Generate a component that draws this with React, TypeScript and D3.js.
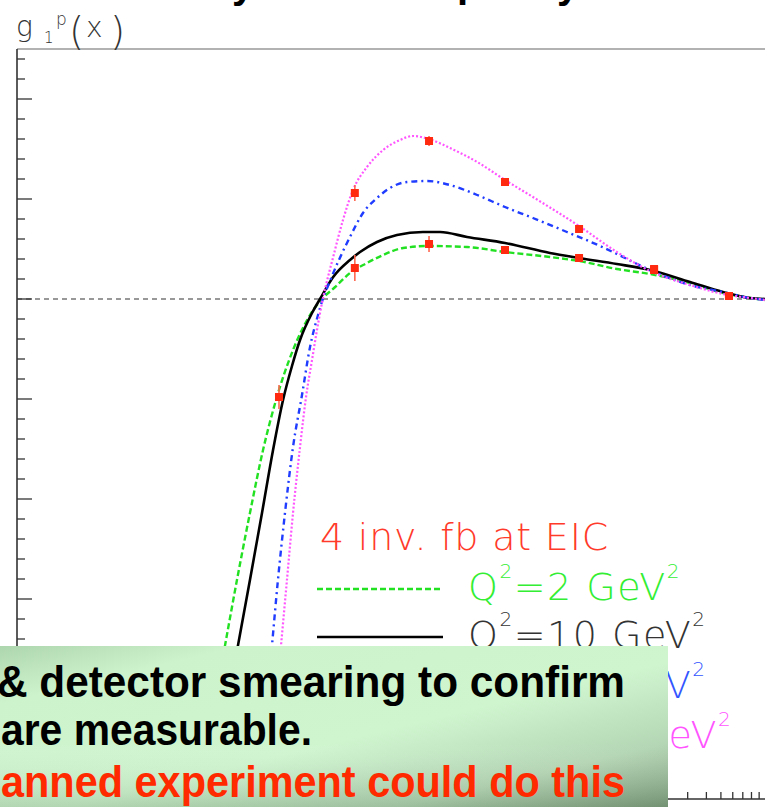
import React from 'react';
import * as d3 from 'd3';

// ---- data ----
const xGreen = [2.10e-4, 2.45e-4, 2.94e-4, 3.59e-4, 4.39e-4, 5.36e-4, 6.96e-4, 9.04e-4, 1.086e-3, 1.33e-3, 1.67e-3, 2.17e-3, 2.78e-3, 3.78e-3, 5.63e-3, 1.01e-2, 1.81e-2, 3.61e-2, 5.65e-2, 0.101, 0.168, 0.311, 0.516, 0.782, 0.985];
const yGreen = [-4.01, -3.46, -2.81, -2.14, -1.51, -1.01, -0.51, -0.16, 0, 0.12, 0.26, 0.36, 0.44, 0.51, 0.53, 0.52, 0.47, 0.42, 0.38, 0.30, 0.25, 0.16, 0.06, 0.01, -0.01];

const xBlack = [2.56e-4, 2.99e-4, 3.59e-4, 4.32e-4, 5.12e-4, 5.97e-4, 6.85e-4, 7.75e-4, 9.32e-4, 1.054e-3, 1.29e-3, 1.67e-3, 1.95e-3, 2.53e-3, 3.44e-3, 5.13e-3, 6.67e-3, 1.01e-2, 1.81e-2, 3.61e-2, 5.65e-2, 0.101, 0.168, 0.311, 0.516, 0.782, 0.985];
const yBlack = [-4.01, -3.46, -2.81, -2.14, -1.51, -1.01, -0.67, -0.41, -0.14, 0, 0.22, 0.39, 0.47, 0.57, 0.64, 0.67, 0.67, 0.62, 0.56, 0.46, 0.41, 0.35, 0.29, 0.17, 0.07, 0.01, 0];

const xBlue = [4.67e-4, 5.04e-4, 5.52e-4, 6.15e-4, 6.96e-4, 7.99e-4, 9.04e-4, 1.022e-3, 1.10e-3, 1.19e-3, 1.39e-3, 1.67e-3, 2.04e-3, 2.53e-3, 3.09e-3, 4.01e-3, 5.46e-3, 7.77e-3, 1.18e-2, 1.81e-2, 2.78e-2, 4.69e-2, 7.80e-2, 0.101, 0.168, 0.311, 0.516, 0.782, 0.985];
const yBlue = [-4.01, -3.46, -2.81, -2.14, -1.48, -0.96, -0.48, -0.16, 0, 0.13, 0.37, 0.62, 0.86, 1.01, 1.11, 1.17, 1.18, 1.14, 1.04, 0.92, 0.81, 0.67, 0.53, 0.45, 0.29, 0.14, 0.07, 0.01, -0.01];

const xMagenta = [5.36e-4, 5.79e-4, 6.34e-4, 6.96e-4, 7.75e-4, 8.50e-4, 9.32e-4, 1.006e-3, 1.086e-3, 1.156e-3, 1.29e-3, 1.50e-3, 1.75e-3, 2.17e-3, 2.78e-3, 3.60e-3, 4.40e-3, 5.63e-3, 7.77e-3, 1.18e-2, 1.81e-2, 2.78e-2, 5.65e-2, 0.101, 0.168, 0.311, 0.516, 0.782, 0.985];
const yMagenta = [-4.01, -3.46, -2.81, -2.14, -1.48, -0.98, -0.61, -0.31, -0.04, 0.14, 0.42, 0.79, 1.09, 1.32, 1.49, 1.59, 1.63, 1.60, 1.51, 1.37, 1.19, 1.02, 0.73, 0.47, 0.28, 0.14, 0.05, 0.01, -0.01];

// projected EIC points
const ptsLowX = [5.61e-4, 1.80e-3, 5.63e-3, 1.81e-2, 5.65e-2, 0.179, 0.566];
const ptsLowY = [-0.98, 0.31, 0.55, 0.49, 0.41, 0.29, 0.03];
const ptsLowErr = [0.12, 0.13, 0.08, 0.03, 0.03, 0.02, 0.02];
const ptsHighX = [1.80e-3, 5.63e-3, 1.81e-2, 5.65e-2, 0.179, 0.566];
const ptsHighY = [1.06, 1.58, 1.17, 0.70, 0.30, 0.03];
const ptsHighErr = [0.08, 0.05, 0.02, 0.02, 0.02, 0.02];

const legendTitle = '4 inv. fb at EIC';
const legendQ2 = ['2', '10', '50', '100'];
const boxLines = ['& detector smearing to confirm', 'are measurable.', 'anned experiment could do this'];
const titleFragments = ['y', 'p', 'y'];

const W = 765, H = 807;
const PX0 = 17, PX1 = 766, PY0 = 49, PY1 = 799;

export default function App() {
  const x = d3.scaleLog().domain([1e-5, 1]).range([PX0, PX1]);
  const y = d3.scaleLinear().domain([-5, 2.5]).range([PY1, PY0]);

  const line = d3.line<[number, number]>()
    .x(d => x(d[0]))
    .y(d => y(d[1]))
    .curve(d3.curveMonotoneX);
  const zip = (a: number[], b: number[]) => a.map((v, i) => [v, b[i]] as [number, number]);

  const curves = [
    { xs: xGreen, ys: yGreen, color: '#22e022', dash: '6 3', w: 2.4 },
    { xs: xBlack, ys: yBlack, color: '#000000', dash: null, w: 2.6 },
    { xs: xBlue, ys: yBlue, color: '#1f3cff', dash: '6 4 2 4', w: 2.4 },
    { xs: xMagenta, ys: yMagenta, color: '#ff55ff', dash: '2 2', w: 2.2 },
  ];
  const legendColors = ['#33ee33', '#333333', '#3355ff', '#ff55ff'];

  const yTicks: { v: number; major: boolean }[] = [];
  for (let i = -25; i <= 12; i++) {
    yTicks.push({ v: i * 0.2, major: i % 5 === 0 });
  }
  const xTicks: { v: number; major: boolean }[] = [];
  for (let d = -5; d < 0; d++) {
    for (let k = 1; k <= 9; k++) xTicks.push({ v: k * Math.pow(10, d), major: k === 1 });
  }

  const thin = "'DejaVu Sans ExtraLight', 'DejaVu Sans', sans-serif";
  const legendBase = [550, 600, 648, 698, 748];

  return (
    <svg width={W} height={H} style={{ position: 'absolute', left: 0, top: 0, background: '#fff' }}>
      <defs>
        <clipPath id="plot">
          <rect x={PX0} y={PY0} width={PX1 - PX0} height={PY1 - PY0} />
        </clipPath>
        <linearGradient id="boxg" x1="0" y1="0" x2="1" y2="1">
          <stop offset="0" stopColor="#aed6ae" />
          <stop offset="0.18" stopColor="#cdf3cd" />
          <stop offset="0.55" stopColor="#cff5cf" />
          <stop offset="0.8" stopColor="#b4d6b4" />
          <stop offset="1" stopColor="#7b9a7b" />
        </linearGradient>
        <linearGradient id="boxv" x1="0" y1="0" x2="0" y2="1">
          <stop offset="0" stopColor="#ffffff" stopOpacity="0" />
          <stop offset="0.6" stopColor="#ffffff" stopOpacity="0" />
          <stop offset="1" stopColor="#5a7a5a" stopOpacity="0.25" />
        </linearGradient>
      </defs>

      {/* frame */}
      <line x1={PX0} y1={PY0} x2={W} y2={PY0} stroke="#666" strokeWidth={1.2} />
      <line x1={PX0} y1={PY0} x2={PX0} y2={PY1} stroke="#333" strokeWidth={1.6} />
      <line x1={PX0} y1={PY1} x2={W} y2={PY1} stroke="#333" strokeWidth={1.6} />
      {yTicks.map((t, i) => (
        <line key={'yt' + i} x1={PX0} x2={PX0 + (t.major ? 15 : 8)} y1={y(t.v)} y2={y(t.v)} stroke="#333" strokeWidth={1.3} />
      ))}
      {xTicks.map((t, i) => (
        <line key={'xt' + i} x1={x(t.v)} x2={x(t.v)} y1={PY1} y2={PY1 - (t.major ? 14 : 7)} stroke="#333" strokeWidth={1.3} />
      ))}

      {/* zero line */}
      <line x1={PX0} x2={W} y1={y(0)} y2={y(0)} stroke="#333" strokeWidth={1.2} strokeDasharray="5 4" />

      {/* curves and projected points */}
      <g clipPath="url(#plot)">
        {curves.map((c, i) => (
          <path key={'c' + i} d={line(zip(c.xs, c.ys)) || ''} fill="none" stroke={c.color}
            strokeWidth={c.w} strokeDasharray={c.dash || undefined} />
        ))}
        {[{ xs: ptsLowX, ys: ptsLowY, es: ptsLowErr }, { xs: ptsHighX, ys: ptsHighY, es: ptsHighErr }].map((s, si) => (
          <g key={'s' + si}>
            {s.xs.map((xv, i) => (
              <g key={i}>
                <line x1={x(xv)} x2={x(xv)} y1={y(s.ys[i] + s.es[i])} y2={y(s.ys[i] - s.es[i])} stroke="#ff6650" strokeWidth={1.6} />
                <rect x={x(xv) - 4} y={y(s.ys[i]) - 4} width={8} height={8} fill="#ff2a10" />
              </g>
            ))}
          </g>
        ))}
      </g>

      {/* y-axis title */}
      <g fill="#333" fontFamily={thin} fontWeight={200}>
        <text x={16} y={36} fontSize={28}>g</text>
        <text x={44} y={43} fontSize={15}>1</text>
        <text x={56} y={25} fontSize={17}>p</text>
        <text x={69} y={45} fontSize={39}>(</text>
        <text x={86} y={37} fontSize={28}>x</text>
        <text x={110} y={45} fontSize={39}>)</text>
      </g>

      {/* legend */}
      <text x={320} y={legendBase[0]} fontSize={38} fill="#ff3a2a" fontFamily={thin} fontWeight={200} letterSpacing={0.8}>{legendTitle}</text>
      {legendQ2.map((q, i) => {
        const c = curves[i];
        const by = legendBase[i + 1];
        return (
          <g key={'lg' + i}>
            <line x1={317} x2={443} y1={by - 11} y2={by - 11} stroke={c.color} strokeWidth={c.w} strokeDasharray={c.dash || undefined} />
            <text x={468} y={by} fontSize={38} fill={legendColors[i]} fontFamily={thin} fontWeight={200} letterSpacing={1.5}>
              <tspan>Q</tspan>
              <tspan dy={-22} fontSize={20}>2</tspan>
              <tspan dy={22}>={q} GeV</tspan>
              <tspan dy={-22} fontSize={20}>2</tspan>
            </text>
          </g>
        );
      })}

      {/* overlay box */}
      <rect x={0} y={646} width={668} height={H - 646} fill="url(#boxg)" />
      <rect x={0} y={646} width={668} height={H - 646} fill="url(#boxv)" />
      <g fontFamily="'Liberation Sans', Arial, sans-serif" fontWeight="bold" fontSize={44}>
        <text x={-3} y={697} fill="#000" textLength={628} lengthAdjust="spacingAndGlyphs">{boxLines[0]}</text>
        <text x={1} y={745} fill="#000" textLength={311} lengthAdjust="spacingAndGlyphs">{boxLines[1]}</text>
        <text x={1} y={797} fill="#ff2a00" textLength={624} lengthAdjust="spacingAndGlyphs">{boxLines[2]}</text>
      </g>

      {/* cropped slide title fragments */}
      <g fontFamily="'Liberation Sans', Arial, sans-serif" fontWeight="bold" fontSize={40} fill="#000">
        <text x={232} y={-2}>{titleFragments[0]}</text>
        <text x={457} y={-3}>{titleFragments[1]}</text>
        <text x={557} y={-2}>{titleFragments[2]}</text>
      </g>
    </svg>
  );
}
